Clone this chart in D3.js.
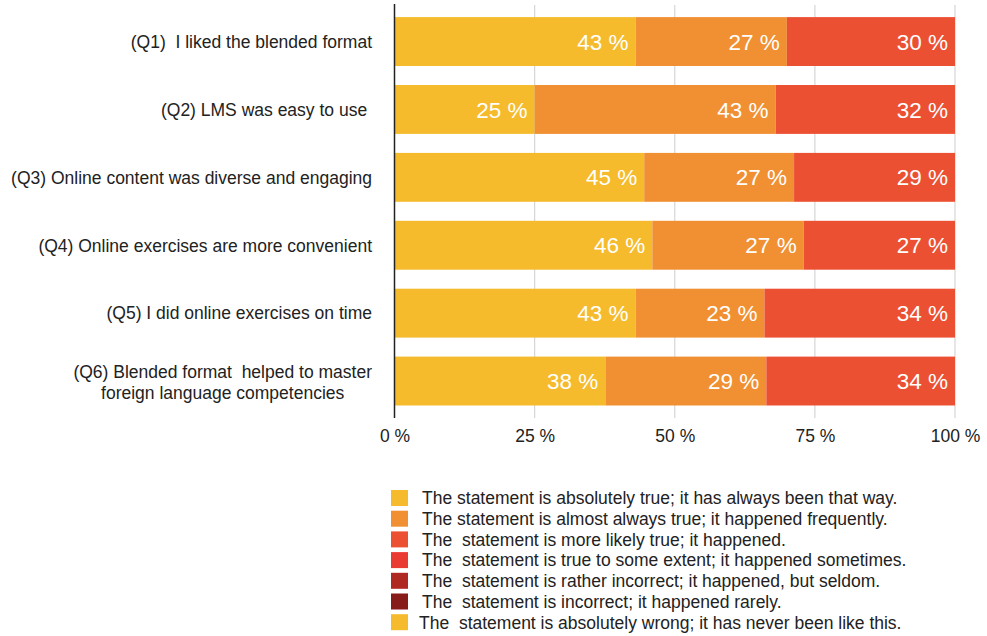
<!DOCTYPE html>
<html>
<head>
<meta charset="utf-8">
<script src="https://cdn.jsdelivr.net/npm/d3@7"></script>
<style>
  html, body { margin: 0; padding: 0; background: #fff; }
  svg { display: block; font-family: "Liberation Sans", Arial, Helvetica, sans-serif; }
  .pre { white-space: pre; }
</style>
</head>
<body>
<svg id="chart" width="987" height="636"></svg>
<script>
// Survey questions (each entry: lines of the label)
const questions = [
  ["(Q1)  I liked the blended format"],
  ["(Q2) LMS was easy to use "],
  ["(Q3) Online content was diverse and engaging"],
  ["(Q4) Online exercises are more convenient"],
  ["(Q5) I did online exercises on time"],
  ["(Q6) Blended format  helped to master", "foreign language competencies"]
];
const questionIds = ["Q1", "Q2", "Q3", "Q4", "Q5", "Q6"];

// Answer shares per question, in percent
const absolutelyTrue   = [43, 25, 45, 46, 43, 38];
const almostAlwaysTrue = [27, 43, 27, 27, 23, 29];
const moreLikelyTrue   = [30, 32, 29, 27, 34, 34];
const trueSomeExtent   = [0, 0, 0, 0, 0, 0];
const ratherIncorrect  = [0, 0, 0, 0, 0, 0];
const incorrect        = [0, 0, 0, 0, 0, 0];
const absolutelyWrong  = [0, 0, 0, 0, 0, 0];

const seriesNames = [
  "The statement is absolutely true; it has always been that way.",
  "The statement is almost always true; it happened frequently.",
  "The  statement is more likely true; it happened.",
  "The  statement is true to some extent; it happened sometimes.",
  "The  statement is rather incorrect; it happened, but seldom.",
  "The  statement is incorrect; it happened rarely.",
  "The  statement is absolutely wrong; it has never been like this."
];
const seriesValues = [absolutelyTrue, almostAlwaysTrue, moreLikelyTrue,
  trueSomeExtent, ratherIncorrect, incorrect, absolutelyWrong];
const seriesColors = ["#F5BB2C", "#F09032", "#EC5033", "#EA3B33", "#B02822", "#861B1A", "#F5BB2C"];

const xTicks = [0, 0.25, 0.5, 0.75, 1];

// Build a table the stack generator can use
const keys = seriesNames.map((_, i) => "s" + i);
const table = questionIds.map((q, qi) => {
  const row = { id: q };
  keys.forEach((k, si) => row[k] = seriesValues[si][qi]);
  return row;
});

const stacked = d3.stack().keys(keys).offset(d3.stackOffsetExpand)(table);

const svg = d3.select("#chart");

const x = d3.scaleLinear().domain([0, 1]).range([394.5, 955]);
const y = d3.scaleBand().domain(questionIds).range([7.6, 415])
  .paddingInner(0.28).paddingOuter(0.14);

// Vertical grid lines
svg.append("g").selectAll("line")
  .data(xTicks.slice(1))
  .join("line")
  .attr("x1", d => x(d)).attr("x2", d => x(d))
  .attr("y1", 5).attr("y2", 418)
  .attr("stroke", "#d6d6d6").attr("stroke-width", 1.2);

// Bars
const layers = svg.append("g").selectAll("g")
  .data(stacked)
  .join("g")
  .attr("fill", (d, i) => seriesColors[i]);

layers.selectAll("rect")
  .data(d => d.filter(p => p[1] - p[0] > 0))
  .join("rect")
  .attr("x", d => x(d[0]))
  .attr("width", d => x(d[1]) - x(d[0]))
  .attr("y", d => y(d.data.id))
  .attr("height", y.bandwidth());

// Value labels inside the segments
stacked.forEach((layer, si) => {
  svg.append("g").selectAll("text")
    .data(layer.filter(p => p[1] - p[0] > 0))
    .join("text")
    .attr("x", d => x(d[1]) - 7)
    .attr("y", d => y(d.data.id) + y.bandwidth() / 2)
    .attr("dy", "0.36em")
    .attr("text-anchor", "end")
    .attr("fill", "#fff")
    .attr("font-size", 22.5)
    .text(d => seriesValues[si][questionIds.indexOf(d.data.id)] + " %");
});

// Zero axis line
svg.append("line")
  .attr("x1", x(0)).attr("x2", x(0))
  .attr("y1", 4).attr("y2", 418)
  .attr("stroke", "#222").attr("stroke-width", 1.5);

// X axis tick labels
const xAxis = d3.axisBottom(x).tickValues(xTicks)
  .tickFormat(d => Math.round(d * 100) + " %").tickSize(0).tickPadding(0);
const xg = svg.append("g").attr("transform", "translate(0,426)").call(xAxis);
xg.select(".domain").remove();
xg.selectAll("text")
  .attr("font-size", 17.5).attr("fill", "#222")
  .attr("font-family", "Liberation Sans, Arial, sans-serif")
  .attr("y", 16).attr("dy", 0);

// Question labels: block right-aligned, extra lines centred under the first
const labelRight = 372;
const labelSize = 17.5;
questionIds.forEach((q, i) => {
  const lines = questions[i];
  const cy = y(q) + y.bandwidth() / 2;
  const g = svg.append("g");
  const first = g.append("text")
    .attr("class", "pre")
    .attr("text-anchor", "end")
    .attr("font-size", labelSize)
    .attr("fill", "#222")
    .attr("x", labelRight)
    .attr("y", lines.length === 1 ? cy : cy - 9.5)
    .attr("dy", "0.36em")
    .text(lines[0]);
  if (lines.length > 1) {
    const w = first.node().getComputedTextLength();
    g.append("text")
      .attr("class", "pre")
      .attr("text-anchor", "middle")
      .attr("font-size", labelSize)
      .attr("fill", "#222")
      .attr("x", labelRight - w / 2)
      .attr("y", cy + 12)
      .attr("dy", "0.36em")
      .text(lines[1]);
  }
});

// Legend
const legend = svg.append("g").attr("transform", "translate(391,490)");
const item = legend.selectAll("g")
  .data(seriesNames)
  .join("g")
  .attr("transform", (d, i) => `translate(0,${i * 20.7})`);
item.append("rect")
  .attr("width", 17).attr("height", 16)
  .attr("fill", (d, i) => seriesColors[i]);
item.append("text")
  .attr("class", "pre")
  .attr("x", (d, i) => i === 6 ? 28 : 31)
  .attr("y", 8)
  .attr("dy", "0.36em")
  .attr("font-size", 17.5)
  .attr("fill", "#222")
  .text(d => d);
</script>
</body>
</html>
